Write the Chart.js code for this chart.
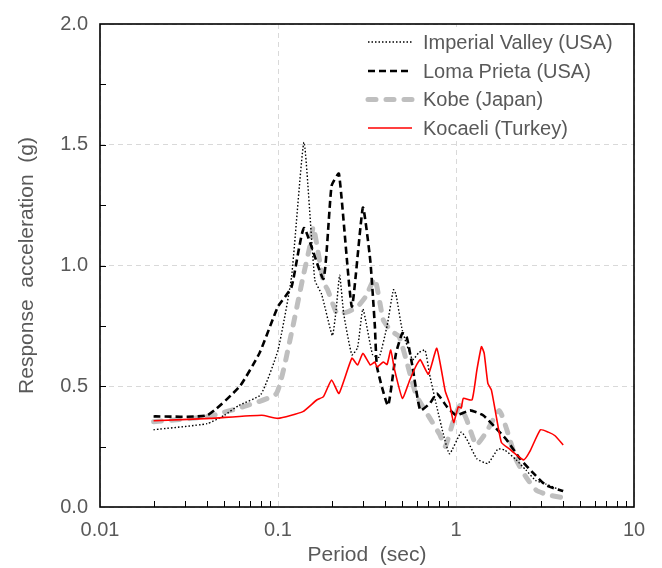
<!DOCTYPE html>
<html>
<head>
<meta charset="utf-8">
<script src="https://cdn.jsdelivr.net/npm/chart.js@4.4.1/dist/chart.umd.min.js"></script>
<style>
  html, body { margin: 0; padding: 0; background: #ffffff; }
  #wrap { width: 662px; height: 568px; }
</style>
</head>
<body>
<div id="wrap"><canvas id="c" width="662" height="568"></canvas></div>
<script>
// ---- Data (period in sec, response acceleration in g) ----
const seriesNames = ['Imperial Valley (USA)', 'Loma Prieta (USA)', 'Kobe (Japan)', 'Kocaeli (Turkey)'];

const imperialPeriods = [0.02, 0.04, 0.05, 0.06, 0.08, 0.10, 0.119, 0.14, 0.161, 0.176, 0.202, 0.212, 0.222, 0.234, 0.26, 0.28, 0.30, 0.34, 0.37, 0.41, 0.445, 0.46, 0.50, 0.57, 0.62, 0.67, 0.71, 0.78, 0.85, 0.92, 1.07, 1.15, 1.31, 1.51, 1.72, 1.88, 2.18, 2.47, 2.8, 3.2, 4.0];
const imperialValues  = [0.32, 0.345, 0.38, 0.42, 0.465, 0.65, 0.95, 1.51, 0.94, 0.88, 0.71, 0.815, 0.96, 0.80, 0.63, 0.66, 0.82, 0.63, 0.62, 0.75, 0.90, 0.88, 0.73, 0.61, 0.64, 0.65, 0.55, 0.415, 0.30, 0.22, 0.31, 0.28, 0.20, 0.18, 0.24, 0.236, 0.195, 0.153, 0.11, 0.095, 0.065];

const lomaPeriods = [0.02, 0.04, 0.061, 0.079, 0.10, 0.119, 0.14, 0.18, 0.20, 0.22, 0.26, 0.30, 0.33, 0.35, 0.36, 0.415, 0.46, 0.50, 0.53, 0.57, 0.63, 0.715, 0.78, 0.89, 1.0, 1.2, 1.42, 1.66, 1.93, 2.29, 2.72, 3.2, 4.0];
const lomaValues  = [0.375, 0.38, 0.50, 0.64, 0.83, 0.91, 1.155, 0.945, 1.33, 1.38, 0.83, 1.24, 1.02, 0.75, 0.58, 0.42, 0.636, 0.72, 0.70, 0.58, 0.40, 0.43, 0.47, 0.415, 0.38, 0.40, 0.38, 0.33, 0.277, 0.20, 0.14, 0.09, 0.066];

const kobePeriods = [0.02, 0.04, 0.0667, 0.098, 0.119, 0.138, 0.151, 0.158, 0.18, 0.19, 0.215, 0.25, 0.28, 0.31, 0.35, 0.39, 0.43, 0.48, 0.55, 0.60, 0.71, 0.81, 0.87, 0.96, 1.05, 1.15, 1.3, 1.48, 1.75, 1.93, 2.18, 2.47, 2.82, 3.3, 3.9];
const kobeValues  = [0.353, 0.374, 0.42, 0.47, 0.72, 0.95, 1.08, 1.16, 0.93, 0.90, 0.80, 0.81, 0.83, 0.87, 0.945, 0.775, 0.73, 0.705, 0.555, 0.46, 0.37, 0.30, 0.25, 0.35, 0.42, 0.36, 0.257, 0.31, 0.40, 0.32, 0.195, 0.125, 0.07, 0.05, 0.04];

const kocaeliPeriods = [0.02, 0.0415, 0.081, 0.10, 0.138, 0.165, 0.18, 0.20, 0.22, 0.26, 0.28, 0.30, 0.33, 0.35, 0.36, 0.39, 0.41, 0.43, 0.45, 0.50, 0.55, 0.60, 0.63, 0.70, 0.78, 0.87, 0.92, 0.97, 1.03, 1.07, 1.1, 1.23, 1.31, 1.39, 1.44, 1.51, 1.58, 1.67, 1.8, 2.0, 2.4, 2.6, 2.98, 3.3, 3.6, 4.0];
const kocaeliValues  = [0.357, 0.367, 0.38, 0.367, 0.395, 0.443, 0.457, 0.526, 0.47, 0.616, 0.588, 0.636, 0.588, 0.60, 0.58, 0.60, 0.59, 0.65, 0.574, 0.45, 0.526, 0.588, 0.61, 0.55, 0.657, 0.48, 0.43, 0.35, 0.415, 0.41, 0.45, 0.443, 0.567, 0.664, 0.636, 0.512, 0.485, 0.39, 0.267, 0.24, 0.195, 0.23, 0.32, 0.31, 0.295, 0.257];

const xTickLabels = ['0.01', '0.1', '1', '10'];
const yTickLabels = ['0.0', '0.5', '1.0', '1.5', '2.0'];

// ---- helpers ----
function pts(px, py) { return px.map((p, i) => ({ x: p, y: py[i] })); }
function isPow10(v) { const l = Math.log10(v); return Math.abs(l - Math.round(l)) < 1e-6; }

const FONT = "'Liberation Sans', Arial, sans-serif";
const TXT = '#595959';

const datasets = [
  { label: seriesNames[0], data: pts(imperialPeriods, imperialValues), borderColor: '#000000', borderWidth: 1.4, borderDash: [1.5, 2], order: 1 },
  { label: seriesNames[1], data: pts(lomaPeriods, lomaValues), borderColor: '#000000', borderWidth: 2.6, borderDash: [7, 4], order: 2 },
  { label: seriesNames[2], data: pts(kobePeriods, kobeValues), borderColor: '#bfbfbf', borderWidth: 5, borderDash: [8, 10], borderCapStyle: 'round', order: 3 },
  { label: seriesNames[3], data: pts(kocaeliPeriods, kocaeliValues), borderColor: '#ff0000', borderWidth: 1.6, order: 0 }
].map(d => Object.assign({ pointRadius: 0, tension: 0.15, fill: false }, d));

const framePlugin = {
  id: 'frame',
  afterDatasetsDraw(chart) {
    const { ctx } = chart;
    ctx.save();
    ctx.fillStyle = '#ffffff';
    ctx.fillRect(356, 27, 268, 114);
    const rowY = [42, 71, 99.5, 128];
    chart.data.datasets.forEach((ds, i) => {
      const y = rowY[i];
      ctx.beginPath();
      ctx.strokeStyle = ds.borderColor;
      ctx.lineWidth = ds.borderWidth;
      ctx.setLineDash(ds.borderDash || []);
      ctx.lineCap = ds.borderCapStyle || 'butt';
      ctx.moveTo(368, y);
      ctx.lineTo(412, y);
      ctx.stroke();
      ctx.setLineDash([]);
      ctx.lineCap = 'butt';
      ctx.fillStyle = TXT;
      ctx.font = '20px ' + FONT;
      ctx.textBaseline = 'middle';
      ctx.textAlign = 'left';
      ctx.fillText(ds.label, 423, y + 1);
    });
    ctx.restore();
  },
  afterDraw(chart) {
    const { ctx, chartArea: a, scales } = chart;
    const xs = scales.x, ys = scales.y;
    ctx.save();
    ctx.strokeStyle = '#000000';
    ctx.lineWidth = 1;
    ctx.beginPath();
    [0.01, 0.1, 1].forEach(dec => {
      for (let m = 2; m <= 9; m++) {
        const px = Math.round(xs.getPixelForValue(dec * m)) + 0.5;
        ctx.moveTo(px, a.bottom);
        ctx.lineTo(px, a.bottom - 6);
      }
    });
    for (let v = 0.25; v < 2; v += 0.25) {
      const py = Math.round(ys.getPixelForValue(v)) + 0.5;
      ctx.moveTo(a.left, py);
      ctx.lineTo(a.left + 6, py);
    }
    ctx.stroke();
    ctx.lineWidth = 1.6;
    ctx.strokeRect(a.left, a.top, a.right - a.left, a.bottom - a.top);
    ctx.restore();
  }
};

new Chart(document.getElementById('c'), {
  type: 'line',
  data: { datasets },
  plugins: [framePlugin],
  options: {
    responsive: false,
    animation: false,
    layout: { padding: { top: 24, right: 28, left: 0, bottom: 0 } },
    plugins: { legend: { display: false }, tooltip: { enabled: false } },
    scales: {
      x: {
        type: 'logarithmic',
        min: 0.01, max: 10,
        afterFit(s) { s.height = 61; },
        border: { display: false, dash: [5, 4] },
        grid: {
          drawTicks: false,
          lineWidth: 1,
          color: (c) => (c.tick && isPow10(c.tick.value)) ? '#d9d9d9' : 'rgba(0,0,0,0)'
        },
        ticks: {
          autoSkip: false, maxRotation: 0, padding: 11,
          color: TXT, font: { family: FONT, size: 20 },
          callback: (v) => {
            if (!isPow10(v)) return '';
            const idx = Math.round(Math.log10(v)) + 2;
            return xTickLabels[idx];
          }
        },
        title: { display: true, text: 'Period  (sec)', color: TXT, font: { family: FONT, size: 21 }, padding: { top: 0, bottom: 0 } }
      },
      y: {
        min: 0, max: 2,
        afterFit(s) { s.width = 100; },
        border: { display: false, dash: [5, 4] },
        grid: {
          drawTicks: false,
          lineWidth: 1,
          color: '#d9d9d9'
        },
        ticks: {
          stepSize: 0.5, padding: 12,
          color: TXT, font: { family: FONT, size: 20 },
          callback: (v) => yTickLabels[Math.round(v / 0.5)]
        },
        title: { display: true, text: 'Response  acceleration  (g)', color: TXT, font: { family: FONT, size: 21 }, padding: { top: 15, bottom: 0 } }
      }
    }
  }
});
</script>
</body>
</html>
